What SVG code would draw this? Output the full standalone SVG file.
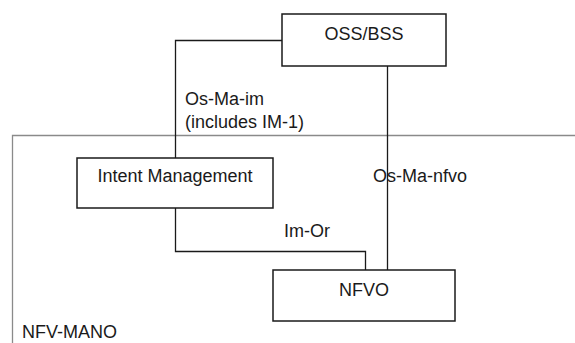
<svg xmlns="http://www.w3.org/2000/svg" width="575" height="343" viewBox="0 0 575 343">
  <style>
    .box { fill: #ffffff; stroke: #1a1a1a; stroke-width: 1.5; }
    .wire { fill: none; stroke: #1a1a1a; stroke-width: 1.3; }
    .frame { fill: none; stroke: #8a8a8a; stroke-width: 1.3; }
    text { font-family: "Liberation Sans", Arial, sans-serif; font-size: 18px; fill: #1a1a1a; }
    .mid { text-anchor: middle; }
  </style>
  <rect width="575" height="343" fill="#ffffff"/>

  <!-- NFV-MANO domain frame -->
  <g id="nfv-mano">
    <path class="frame" d="M12.5,343 V135.5 H575"/>
    <text x="22" y="338">NFV-MANO</text>
  </g>

  <!-- reference points -->
  <g id="connectors">
    <path class="wire" d="M282,40.5 H175.5 V158"/>
    <path class="wire" d="M387.5,66 V270"/>
    <path class="wire" d="M175.5,208 V251.5 H365.5 V270"/>
    <text x="185" y="105">Os-Ma-im</text>
    <text x="185" y="128">(includes IM-1)</text>
    <text x="373" y="182">Os-Ma-nfvo</text>
    <text x="284" y="237">Im-Or</text>
  </g>

  <g id="oss-bss">
    <rect class="box" x="282" y="14" width="164" height="52"/>
    <text class="mid" x="364" y="40">OSS/BSS</text>
  </g>

  <g id="intent-management">
    <rect class="box" x="77" y="158" width="196" height="50"/>
    <text class="mid" x="175" y="182">Intent Management</text>
  </g>

  <g id="nfvo">
    <rect class="box" x="273" y="270" width="182" height="51"/>
    <text class="mid" x="364" y="296">NFVO</text>
  </g>
</svg>
